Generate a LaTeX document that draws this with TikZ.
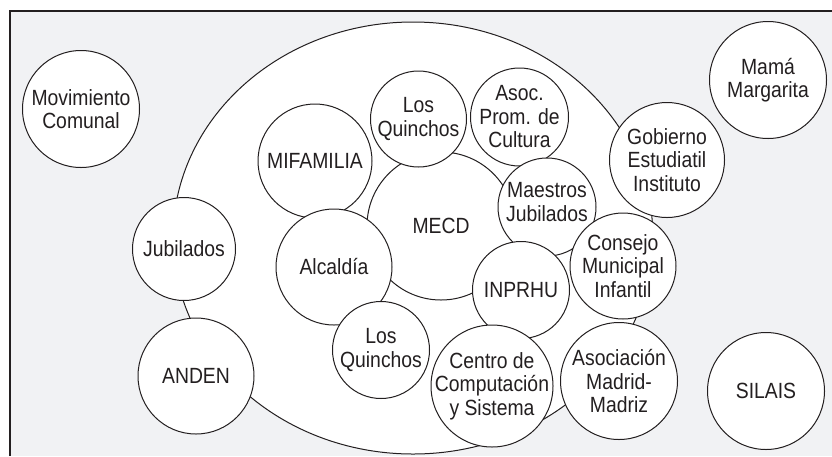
\documentclass[tikz,border=0pt]{standalone}
\usepackage{fontspec}
\newfontfamily\lblfont{Liberation Sans}[FakeStretch=0.88]
\usetikzlibrary{shapes.geometric}
\definecolor{framebg}{HTML}{F1F2F4}
\definecolor{ink}{HTML}{231F20}
\tikzset{
  bub/.style={circle, draw=ink, line width=1pt, fill=white, inner sep=0pt, minimum size=#1},
  txt/.style={align=center, inner sep=0pt, text=ink, font=\lblfont\fontsize{22}{23.5}\selectfont},
  field/.style={ellipse, draw=ink, line width=1pt, fill=white, inner sep=0pt},
}
\begin{document}
\begin{tikzpicture}[x=1pt,y=-1pt]
\useasboundingbox (0,0) rectangle (832,456);
% frame
\fill[framebg] (10,11) rectangle (832,456);
\coordinate (ftl) at (10,11);
\coordinate (ftr) at (832,11);
\coordinate (fbl) at (10,456);
\draw[ink, line width=1.2pt] (fbl) -- (ftl) -- (ftr);
% big ellipse
\node[field, minimum width=480pt, minimum height=432pt] (area) at (413,238) {};
% circles
\node[bub=117pt] (mov) at (81,109) {};
\node[txt] (tmov) at (mov) {Movimiento\\Comunal};
\node[bub=117pt] (mama) at (768,80) {};
\node[txt] (tmama) at (mama) {Mamá\\Margarita};
\node[bub=148pt] (mecd) at (441,226) {};
\node[txt] (tmecd) at (mecd) {MECD};
\node[bub=114pt] (mif) at (315,161) {};
\node[txt] (tmif) at (mif) {MIFAMILIA};
\node[bub=96pt] (lqa) at (418.5,119) {};
\node[txt] (tlqa) at (lqa) {Los\\Quinchos};
\node[bub=98pt] (asoc) at (519.5,117) {};
\node[txt] (tasoc) at (asoc) {Asoc.\\Prom. de\\Cultura};
\node[bub=115pt] (gob) at (667,160) {};
\node[txt] (tgob) at (gob) {Gobierno\\Estudiatil\\Instituto};
\node[bub=98pt] (maes) at (547,207) {};
\node[txt] (tmaes) at (547,202) {Maestros\\Jubilados};
\node[bub=103pt] (jub) at (184,249) {};
\node[txt] (tjub) at (jub) {Jubilados};
\node[bub=116pt] (alc) at (334,267) {};
\node[txt] (talc) at (alc) {Alcaldía};
\node[bub=97pt] (inp) at (521,290) {};
\node[txt] (tinp) at (inp) {INPRHU};
\node[bub=106pt] (cons) at (623,266) {};
\node[txt] (tcons) at (cons) {Consejo\\Municipal\\Infantil};
\node[bub=116pt] (anden) at (196,376) {};
\node[txt] (tanden) at (anden) {ANDEN};
\node[bub=97pt] (lqb) at (381,350) {};
\node[txt] (tlqb) at (lqb) {Los\\Quinchos};
\node[bub=122pt] (centro) at (492,386) {};
\node[txt] (tcentro) at (centro) {Centro de\\Computación\\y Sistema};
\node[bub=117pt] (madr) at (619,381) {};
\node[txt] (tmadr) at (madr) {Asociación\\Madrid-\\Madriz};
\node[bub=117pt] (silais) at (766,391) {};
\node[txt] (tsilais) at (silais) {SILAIS};
\end{tikzpicture}
\end{document}
